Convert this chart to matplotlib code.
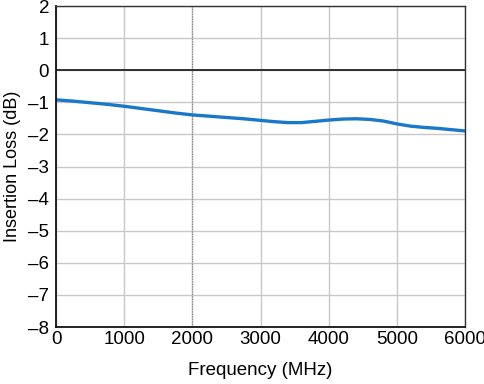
import matplotlib
matplotlib.use("Agg")
import matplotlib.pyplot as plt

# insertion loss
freq_mhz = [0, 250, 500, 750, 1000, 1250, 1500, 1750, 2000, 2250, 2500, 2750, 3000, 3200,
            3400, 3600, 3800, 4000, 4200, 4400, 4600, 4800, 5000, 5200, 5400, 5600, 5800, 6000]
loss_db = [-0.92, -0.96, -1.01, -1.06, -1.12, -1.19, -1.26, -1.33, -1.39, -1.43, -1.47, -1.51,
           -1.56, -1.60, -1.63, -1.63, -1.59, -1.55, -1.52, -1.51, -1.53, -1.58, -1.67, -1.74,
           -1.78, -1.81, -1.85, -1.89]

xticks = [0, 1000, 2000, 3000, 4000, 5000, 6000]
yticks = list(range(-8, 3))

plt.rcParams['font.family'] = ['Liberation Sans', 'DejaVu Sans']

fig = plt.figure(figsize=(4.85, 3.84), dpi=100)
ax = fig.add_axes([0.1155, 0.1484, 0.959 - 0.1155, 0.984 - 0.1484])

ax.set_xlim(0, 6000)
ax.set_ylim(-8, 2)
ax.set_xticks(xticks)
ax.set_yticks(yticks)
ax.set_yticklabels([str(t).replace('-', '\u2013') for t in yticks])

ax.grid(True, color="#c8c8c8", linewidth=1.0)
ax.axvline(2000, color="#888888", linewidth=0.9, linestyle=(0, (1, 1)))
ax.axhline(0, color="#222222", linewidth=1.3)

ax.plot(freq_mhz, loss_db, color="#1a78c8", linewidth=2.4, solid_capstyle="butt")

ax.tick_params(length=0, labelsize=13.5)
ax.tick_params(axis='x', pad=3)
ax.tick_params(axis='y', pad=5)
for side in ['left', 'bottom']:
    ax.spines[side].set_linewidth(1.3)
    ax.spines[side].set_color("#111111")
for side in ['top', 'right']:
    ax.spines[side].set_linewidth(1.0)
    ax.spines[side].set_color("#333333")

ax.set_xlabel("Frequency (MHz)", fontsize=13.5, labelpad=10)
ax.set_ylabel("Insertion Loss (dB)", fontsize=13, labelpad=5)

fig.savefig("out.png", dpi=100)
